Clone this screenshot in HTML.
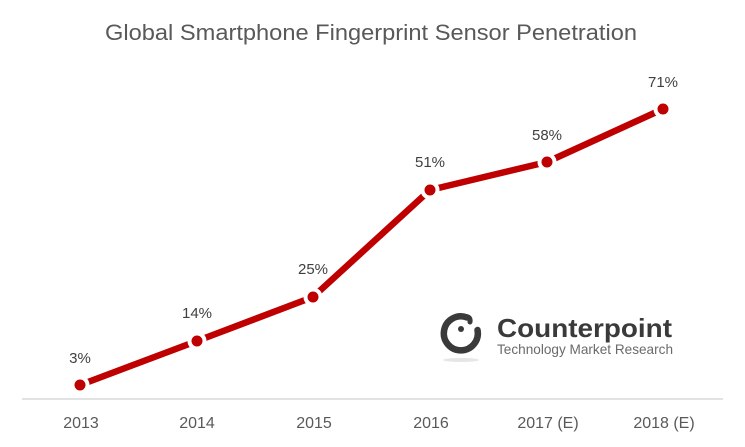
<!DOCTYPE html>
<html>
<head>
<meta charset="utf-8">
<style>
html,body{margin:0;padding:0;background:#fff;}
svg{display:block;}
</style>
</head>
<body>
<svg width="745" height="447" viewBox="0 0 745 447" xmlns="http://www.w3.org/2000/svg">
  <rect width="745" height="447" fill="#fff"/>
  <text x="371" y="40" text-anchor="middle" font-family="Liberation Sans, sans-serif" font-size="22" fill="#595959" textLength="532" lengthAdjust="spacingAndGlyphs">Global Smartphone Fingerprint Sensor Penetration</text>

  <line x1="22" y1="399" x2="723" y2="399" stroke="#d9d9d9" stroke-width="1.5"/>

  <g font-family="Liberation Sans, sans-serif" font-size="16" fill="#595959" text-anchor="middle">
    <text x="81" y="428">2013</text>
    <text x="197" y="428">2014</text>
    <text x="314" y="428">2015</text>
    <text x="431" y="428">2016</text>
    <text x="548" y="428">2017 (E)</text>
    <text x="664" y="428">2018 (E)</text>
  </g>

  <polyline points="80,385 197,341 313,297 430,190 547,162 663,109" fill="none" stroke="#bf0000" stroke-width="6.5" stroke-linejoin="round"/>
  <g fill="#bf0000" stroke="#fff" stroke-width="4">
    <circle cx="80" cy="385" r="7.5"/>
    <circle cx="197" cy="341" r="7.5"/>
    <circle cx="313" cy="297" r="7.5"/>
    <circle cx="430" cy="190" r="7.5"/>
    <circle cx="547" cy="162" r="7.5"/>
    <circle cx="663" cy="109" r="7.5"/>
  </g>

  <g font-family="Liberation Sans, sans-serif" font-size="15" fill="#404040" text-anchor="middle">
    <text x="80" y="363">3%</text>
    <text x="197" y="318">14%</text>
    <text x="313" y="274">25%</text>
    <text x="430" y="167">51%</text>
    <text x="547" y="140">58%</text>
    <text x="663" y="87">71%</text>
  </g>

  <!-- logo -->
  <ellipse cx="461" cy="360" rx="18" ry="2" fill="#e6e6e6"/>
  <path d="M 467 317.5 A 17 17 0 1 0 477.5 330" fill="none" stroke="#3a3a3a" stroke-width="6.5" stroke-linecap="round"/>
  <path d="M 464 316.5 Q 471 316 470 322" fill="none" stroke="#3a3a3a" stroke-width="5" stroke-linecap="round"/>
  <circle cx="461" cy="329" r="3" fill="#3a3a3a"/>
  <text x="497" y="337" font-family="Liberation Sans, sans-serif" font-weight="bold" font-size="26" fill="#3a3a3a" textLength="175" lengthAdjust="spacingAndGlyphs">Counterpoint</text>
  <text x="497" y="354" font-family="Liberation Sans, sans-serif" font-size="14" fill="#6a6a6a" textLength="176" lengthAdjust="spacingAndGlyphs">Technology Market Research</text>
</svg>
</body>
</html>
